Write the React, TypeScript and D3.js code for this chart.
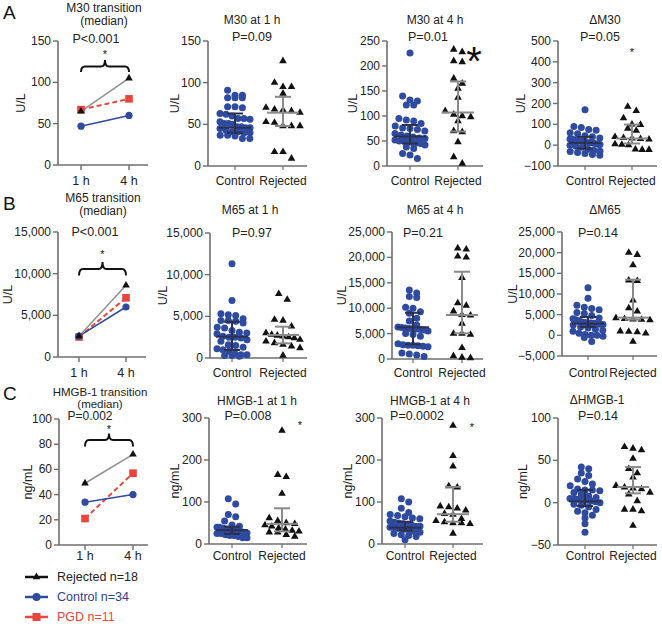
import React from 'react';
import * as d3 from 'd3';

// ---------- DATA ----------
const groups = ['Control', 'Rejected'];
const timepoints = ['1 h', '4 h'];

// transition medians [1 h, 4 h]
const m30TransRejected = [65, 105];
const m30TransControl = [47, 60];
const m30TransPGD = [67, 80];
const m65TransRejected = [2500, 8600];
const m65TransControl = [2500, 6000];
const m65TransPGD = [2400, 7100];
const hmgbTransRejected = [49, 72];
const hmgbTransControl = [34, 40];
const hmgbTransPGD = [21, 57];

// individual values
const m30At1hControl = [91, 85, 85, 82, 82, 82, 71, 71, 70, 63, 62, 57, 57, 56, 51, 51, 50, 47, 47, 46, 46, 45, 41, 41, 40, 40, 37, 37, 36, 33, 33, 60, 53, 43];
const m30At1hRejected = [126, 100, 95, 95, 87, 70, 68, 67, 66, 64, 53, 52, 48, 48, 48, 17, 17, 9];
const m30At4hControl = [226, 140, 132, 130, 122, 122, 95, 92, 90, 85, 80, 76, 75, 73, 70, 65, 62, 60, 58, 56, 55, 52, 50, 50, 48, 47, 46, 45, 42, 38, 35, 25, 22, 15];
const m30At4hRejected = [233, 228, 210, 208, 175, 165, 155, 137, 110, 103, 100, 98, 90, 70, 68, 48, 18, 5];
const dM30Control = [170, 90, 85, 75, 72, 60, 55, 45, 40, 35, 30, 28, 25, 22, 20, 18, 15, 13, 12, 10, 8, 5, 3, 0, -5, -10, -20, -25, -28, -30, -35, -40, -45, -48];
const dM30Rejected = [185, 165, 130, 100, 98, 80, 70, 40, 35, 33, 30, 28, 5, 3, 0, -20, -22, -22];
const m65At1hControl = [11300, 6900, 5300, 5200, 5100, 4700, 4500, 4500, 4400, 4200, 3700, 3600, 3300, 3100, 3000, 2900, 2600, 2500, 2500, 2400, 2200, 2000, 1600, 1500, 1300, 1100, 1000, 800, 500, 400, 400, 300, 300, 200];
const m65At1hRejected = [7700, 7000, 4600, 4500, 3800, 3000, 2800, 2700, 2600, 2500, 2400, 2200, 2000, 1800, 1600, 1400, 1200, 300];
const m65At4hControl = [13600, 13000, 12300, 12100, 10200, 10000, 9300, 9000, 8000, 7500, 6700, 6300, 6200, 6100, 6000, 6000, 5900, 5800, 5700, 5500, 5000, 4800, 4500, 3000, 2800, 2700, 2700, 2600, 2500, 2400, 1200, 1000, 800, 500];
const m65At4hRejected = [21800, 21600, 20200, 20000, 16000, 11000, 10500, 9400, 8700, 8600, 7000, 5000, 5000, 4800, 2200, 600, 300, 200];
const dM65Control = [11500, 9000, 7300, 6800, 6500, 6200, 5500, 5300, 4800, 4200, 4000, 3800, 3500, 3200, 3100, 3000, 3000, 2900, 2800, 2700, 2600, 2500, 2000, 1800, 1500, 1200, 1000, 500, 200, 0, 0, -200, -500, -1500];
const dM65Rejected = [20000, 19500, 17000, 13300, 13200, 8500, 6600, 5800, 4200, 4000, 3900, 3800, 3700, 1000, 900, 800, 500, -1500];
const hmgbAt1hControl = [108, 95, 70, 65, 55, 45, 42, 40, 40, 38, 38, 37, 36, 35, 35, 34, 33, 32, 32, 30, 30, 30, 28, 28, 27, 26, 25, 25, 22, 20, 20, 18, 15, 15];
const hmgbAt1hRejected = [270, 165, 160, 120, 62, 55, 50, 48, 45, 42, 38, 35, 32, 30, 28, 28, 22, 18];
const hmgbAt4hControl = [108, 100, 85, 75, 70, 68, 65, 62, 60, 55, 52, 50, 48, 45, 45, 42, 42, 40, 40, 40, 38, 38, 36, 35, 35, 32, 30, 30, 28, 25, 22, 20, 18, 10];
const hmgbAt4hRejected = [282, 210, 185, 138, 135, 90, 88, 85, 80, 72, 70, 60, 55, 52, 50, 50, 48, 25];
const dHmgbControl = [42, 40, 35, 32, 28, 25, 22, 20, 16, 15, 15, 14, 12, 10, 8, 6, 5, 5, 4, 3, 3, 2, 1, 0, -2, -3, -5, -8, -10, -12, -15, -18, -25, -35];
const dHmgbRejected = [66, 64, 62, 52, 40, 35, 30, 20, 18, 17, 16, 12, 10, 2, -8, -8, -10, -27];

// summary [Q1, median, Q3]
const m30At1hControlStats = [40, 46, 63];
const m30At1hRejectedStats = [48, 64, 83];
const m30At4hControlStats = [45, 59, 82];
const m30At4hRejectedStats = [69, 107, 169];
const dM30ControlStats = [-16, 11, 40];
const dM30RejectedStats = [8, 32, 99];
const m65At1hControlStats = [960, 2560, 4360];
const m65At1hRejectedStats = [1760, 2760, 3760];
const m65At4hControlStats = [2890, 6240, 9100];
const m65At4hRejectedStats = [5060, 8660, 17180];
const dM65ControlStats = [2010, 2830, 4430];
const dM65RejectedStats = [3800, 4280, 13470];
const hmgbAt1hControlStats = [24, 33, 41];
const hmgbAt1hRejectedStats = [30, 48, 85];
const hmgbAt4hControlStats = [32, 39, 53];
const hmgbAt4hRejectedStats = [53, 71, 136];
const dHmgbControlStats = [-4, 1.5, 15];
const dHmgbRejectedStats = [11, 18.5, 42];

const legendLabels = ['Rejected n=18', 'Control n=34', 'PGD n=11'];

// ---------- STYLE ----------
const FONT = 'Liberation Sans, Arial, Helvetica, sans-serif';
const AXIS = '#6e6e6e';
const BLUE = '#2f4b9f';
const RED = '#e8453c';
const TXT = '#222';

type TransCfg = {
  letter: string; letterY: number; title: string; titleY: number; titleX: number; medianY: number; hFont: number;
  p: string; pX: number; pY: number; unit: string; unitX: number;
  rej: number[]; ctl: number[]; pgd: number[]; domain: [number, number]; ticks: number[];
  x0: number; xEnd: number; xs: [number, number]; yR: [number, number]; catY: number;
  br: { top: number; end: number; peak: number; star: number };
};

const transPanels: TransCfg[] = [
  { letter: 'A', letterY: 12, title: 'M30 transition', titleX: 104, titleY: 8, medianY: 21, hFont: 12, p: 'P<0.001', pX: 96, pY: 39, unit: 'U/L', unitX: 21,
    rej: m30TransRejected, ctl: m30TransControl, pgd: m30TransPGD, domain: [0, 150], ticks: [0, 50, 100, 150],
    x0: 58, xEnd: 148, xs: [81, 129], yR: [165, 41], catY: 181, br: { top: 66.5, end: 72, peak: 60, star: 52 } },
  { letter: 'B', letterY: 203, title: 'M65 transition', titleX: 103, titleY: 198, medianY: 211, hFont: 12, p: 'P<0.001', pX: 95, pY: 232, unit: 'U/L', unitX: 8,
    rej: m65TransRejected, ctl: m65TransControl, pgd: m65TransPGD, domain: [0, 15000], ticks: [0, 5000, 10000, 15000],
    x0: 58, xEnd: 146, xs: [79, 126], yR: [357, 232], catY: 373, br: { top: 269, end: 275.5, peak: 262, star: 252 } },
  { letter: 'C', letterY: 393, title: 'HMGB-1 transition', titleX: 100, titleY: 391.5, medianY: 403.5, hFont: 11.5, p: 'P=0.002', pX: 90, pY: 416, unit: 'ng/mL', unitX: 28,
    rej: hmgbTransRejected, ctl: hmgbTransControl, pgd: hmgbTransPGD, domain: [0, 100], ticks: [0, 20, 40, 60, 80, 100],
    x0: 59, xEnd: 148, xs: [85, 133], yR: [545, 419], catY: 556, br: { top: 440, end: 446.5, peak: 433.5, star: 427 } },
];

type ScatCfg = {
  title: string; titleX: number; titleY: number; p: string; pX: number; pY: number; unit: string; unitX: number;
  ctl: number[]; rej: number[]; ctlStats: number[]; rejStats: number[]; domain: [number, number]; ticks: number[];
  x0: number; xEnd: number; cx: [number, number]; yR: [number, number]; catY: number;
  star?: { x: number; y: number; size: number };
};

const scatPanels: ScatCfg[] = [
  { title: 'M30 at 1 h', titleX: 252, titleY: 20, p: 'P=0.09', pX: 252, pY: 37, unit: 'U/L', unitX: 175,
    ctl: m30At1hControl, rej: m30At1hRejected, ctlStats: m30At1hControlStats, rejStats: m30At1hRejectedStats,
    domain: [0, 150], ticks: [0, 50, 100, 150], x0: 208, xEnd: 307, cx: [235, 283], yR: [166, 41], catY: 181 },
  { title: 'M30 at 4 h', titleX: 435, titleY: 20, p: 'P=0.01', pX: 428, pY: 37, unit: 'U/L', unitX: 353,
    ctl: m30At4hControl, rej: m30At4hRejected, ctlStats: m30At4hControlStats, rejStats: m30At4hRejectedStats,
    domain: [0, 250], ticks: [0, 50, 100, 150, 200, 250], x0: 387, xEnd: 483, cx: [410, 458], yR: [166, 41], catY: 181,
    star: { x: 474, y: 53, size: 40 } },
  { title: '\u0394M30', titleX: 605, titleY: 20, p: 'P=0.05', pX: 600, pY: 37, unit: 'U/L', unitX: 521,
    ctl: dM30Control, rej: dM30Rejected, ctlStats: dM30ControlStats, rejStats: dM30RejectedStats,
    domain: [-100, 500], ticks: [-100, 0, 100, 200, 300, 400, 500], x0: 558, xEnd: 657, cx: [585, 632], yR: [166, 41], catY: 181,
    star: { x: 632, y: 50, size: 11 } },
  { title: 'M65 at 1 h', titleX: 250, titleY: 210, p: 'P=0.97', pX: 252, pY: 233, unit: 'U/L', unitX: 163,
    ctl: m65At1hControl, rej: m65At1hRejected, ctlStats: m65At1hControlStats, rejStats: m65At1hRejectedStats,
    domain: [0, 15000], ticks: [0, 5000, 10000, 15000], x0: 210, xEnd: 307, cx: [232, 283], yR: [358, 233], catY: 373 },
  { title: 'M65 at 4 h', titleX: 435, titleY: 210, p: 'P=0.21', pX: 423, pY: 233, unit: 'U/L', unitX: 342,
    ctl: m65At4hControl, rej: m65At4hRejected, ctlStats: m65At4hControlStats, rejStats: m65At4hRejectedStats,
    domain: [0, 25000], ticks: [0, 5000, 10000, 15000, 20000, 25000], x0: 392, xEnd: 483, cx: [413, 462], yR: [359, 232], catY: 373 },
  { title: '\u0394M65', titleX: 605, titleY: 210, p: 'P=0.14', pX: 598, pY: 233, unit: 'U/L', unitX: 513,
    ctl: dM65Control, rej: dM65Rejected, ctlStats: dM65ControlStats, rejStats: dM65RejectedStats,
    domain: [-5000, 25000], ticks: [-5000, 0, 5000, 10000, 15000, 20000, 25000], x0: 562, xEnd: 657, cx: [588, 633], yR: [356, 232], catY: 373 },
  { title: 'HMGB-1 at 1 h', titleX: 257, titleY: 401, p: 'P=0.008', pX: 248, pY: 416, unit: 'ng/mL', unitX: 175,
    ctl: hmgbAt1hControl, rej: hmgbAt1hRejected, ctlStats: hmgbAt1hControlStats, rejStats: hmgbAt1hRejectedStats,
    domain: [0, 300], ticks: [0, 100, 200, 300], x0: 209, xEnd: 307, cx: [232, 282], yR: [544, 418], catY: 556,
    star: { x: 300, y: 423, size: 11 } },
  { title: 'HMGB-1 at 4 h', titleX: 430, titleY: 401, p: 'P=0.0002', pX: 417, pY: 416, unit: 'ng/mL', unitX: 348,
    ctl: hmgbAt4hControl, rej: hmgbAt4hRejected, ctlStats: hmgbAt4hControlStats, rejStats: hmgbAt4hRejectedStats,
    domain: [0, 300], ticks: [0, 100, 200, 300], x0: 382, xEnd: 483, cx: [405, 453], yR: [544, 418], catY: 556,
    star: { x: 472, y: 425, size: 11 } },
  { title: '\u0394HMGB-1', titleX: 597, titleY: 400, p: 'P=0.14', pX: 598, pY: 416, unit: 'ng/mL', unitX: 523,
    ctl: dHmgbControl, rej: dHmgbRejected, ctlStats: dHmgbControlStats, rejStats: dHmgbRejectedStats,
    domain: [-50, 100], ticks: [-50, 0, 50, 100], x0: 558, xEnd: 657, cx: [585, 633], yR: [545, 418], catY: 556 },
];

const fmt = d3.format(',');
const triPath = d3.symbol(d3.symbolTriangle, 25)() as string;

// row-based scatter layout (points with similar y share a row, centred, width-limited)
function rowLayout(vals: number[], y: (v: number) => number, d: number, maxW: number) {
  const pts = vals.map((v) => ({ v, y: y(v), x: 0 })).sort((a, b) => a.y - b.y);
  const rows: typeof pts[] = [];
  for (const p of pts) {
    const cur = rows[rows.length - 1];
    if (cur && p.y - cur[0].y < d * 0.8) cur.push(p);
    else rows.push([p]);
  }
  rows.forEach((row) => {
    const n = row.length;
    if (n === 1) { row[0].x = 0; return; }
    const sp = Math.min(d, (2 * maxW) / (n - 1));
    row.forEach((p, i) => { p.x = (i - (n - 1) / 2) * sp; });
  });
  return pts;
}

function YAxis({ x0, y, ticks }: { x0: number; y: d3.ScaleLinear<number, number>; ticks: number[] }) {
  const [d0, d1] = y.domain();
  return (
    <g>
      <line x1={x0} x2={x0} y1={y(d0)} y2={y(d1)} stroke={AXIS} strokeWidth={1.6} />
      {ticks.map((t) => (
        <g key={t}>
          <line x1={x0 - 5} x2={x0} y1={y(t)} y2={y(t)} stroke={AXIS} strokeWidth={1.4} />
          <text x={x0 - 7} y={y(t)} textAnchor="end" dominantBaseline="central" fontSize={12} fill={TXT}>{fmt(t)}</text>
        </g>
      ))}
    </g>
  );
}

function Star({ x, y, size }: { x: number; y: number; size: number }) {
  return <text x={x} y={y + size * 0.55} textAnchor="middle" fontSize={size} fill="#111">*</text>;
}

function TransPanel({ c }: { c: TransCfg }) {
  const y = d3.scaleLinear().domain(c.domain).range(c.yR);
  const x = d3.scalePoint<string>().domain(timepoints).range(c.xs);
  const line = d3.line<number>().x((_, i) => x(timepoints[i]) as number).y((v) => y(v));
  const base = y(c.domain[0]);
  const [x1, x2] = c.xs;
  const xm = (x1 + x2) / 2;
  const b = c.br;
  const brace = `M${x1},${b.end} Q${x1},${b.top} ${x1 + 4},${b.top} L${xm - 4},${b.top} Q${xm},${b.top} ${xm},${b.peak} Q${xm},${b.top} ${xm + 4},${b.top} L${x2 - 4},${b.top} Q${x2},${b.top} ${x2},${b.end}`;
  const midY = (c.yR[0] + c.yR[1]) / 2;
  return (
    <g>
      <text x={3} y={c.letterY} dominantBaseline="central" fontSize={19} fill="#111">{c.letter}</text>
      <text x={c.titleX} y={c.titleY} textAnchor="middle" dominantBaseline="central" fontSize={c.hFont} fill={TXT}>{c.title}</text>
      <text x={c.titleX} y={c.medianY} textAnchor="middle" dominantBaseline="central" fontSize={c.hFont} fill={TXT}>(median)</text>
      <text x={c.pX} y={c.pY} textAnchor="middle" dominantBaseline="central" fontSize={c.hFont + 0.5} fill={TXT}>{c.p}</text>
      <text transform={`translate(${c.unitX},${midY}) rotate(-90)`} textAnchor="middle" dominantBaseline="central" fontSize={12.5} fill={TXT}>{c.unit}</text>
      <YAxis x0={c.x0} y={y} ticks={c.ticks} />
      <line x1={c.x0} x2={c.xEnd} y1={base} y2={base} stroke={AXIS} strokeWidth={1.6} />
      {timepoints.map((t) => (
        <g key={t}>
          <line x1={x(t)} x2={x(t)} y1={base} y2={base + 5} stroke={AXIS} strokeWidth={1.4} />
          <text x={x(t)} y={c.catY} textAnchor="middle" dominantBaseline="central" fontSize={12.5} fill={TXT}>{t}</text>
        </g>
      ))}
      <path d={brace} fill="none" stroke="#111" strokeWidth={2} />
      <Star x={xm} y={c.br.star} size={11} />
      <path d={line(c.pgd) as string} fill="none" stroke={RED} strokeWidth={2} strokeDasharray="5,3" />
      <path d={line(c.ctl) as string} fill="none" stroke={BLUE} strokeWidth={1.5} />
      <path d={line(c.rej) as string} fill="none" stroke="#8f8f8f" strokeWidth={1.5} />
      {c.pgd.map((v, i) => (
        <rect key={'p' + i} x={(x(timepoints[i]) as number) - 3.8} y={y(v) - 3.8} width={7.6} height={7.6} fill={RED} />
      ))}
      {c.ctl.map((v, i) => (
        <circle key={'c' + i} cx={x(timepoints[i])} cy={y(v)} r={3.6} fill={BLUE} />
      ))}
      {c.rej.map((v, i) => (
        <path key={'r' + i} d={triPath} transform={`translate(${x(timepoints[i])},${y(v)})`} fill="#111" />
      ))}
    </g>
  );
}

function ErrBar({ cx, y, stats, color }: { cx: number; y: d3.ScaleLinear<number, number>; stats: number[]; color: string }) {
  const [q1, med, q3] = stats;
  return (
    <g stroke={color} strokeWidth={2} fill="none">
      <line x1={cx} x2={cx} y1={y(q1)} y2={y(q3)} />
      <line x1={cx - 16} x2={cx + 16} y1={y(med)} y2={y(med)} />
      <line x1={cx - 8} x2={cx + 8} y1={y(q1)} y2={y(q1)} />
      <line x1={cx - 8} x2={cx + 8} y1={y(q3)} y2={y(q3)} />
    </g>
  );
}

function ScatPanel({ c }: { c: ScatCfg }) {
  const y = d3.scaleLinear().domain(c.domain).range(c.yR);
  const x = d3.scaleOrdinal<string, number>().domain(groups).range(c.cx);
  const base = y(c.domain[0]);
  const midY = (c.yR[0] + c.yR[1]) / 2;
  const ctlPts = rowLayout(c.ctl, y, 7.4, 15);
  const rejPts = rowLayout(c.rej, y, 8.5, 17);
  const xc = x('Control');
  const xr = x('Rejected');
  return (
    <g>
      <text x={c.titleX} y={c.titleY} textAnchor="middle" dominantBaseline="central" fontSize={12} fill={TXT}>{c.title}</text>
      <text x={c.pX} y={c.pY} textAnchor="middle" dominantBaseline="central" fontSize={12.5} fill={TXT}>{c.p}</text>
      <text transform={`translate(${c.unitX},${midY}) rotate(-90)`} textAnchor="middle" dominantBaseline="central" fontSize={12.5} fill={TXT}>{c.unit}</text>
      <YAxis x0={c.x0} y={y} ticks={c.ticks} />
      <line x1={c.x0} x2={c.xEnd} y1={base} y2={base} stroke={AXIS} strokeWidth={1.6} />
      {groups.map((g) => (
        <g key={g}>
          <line x1={x(g)} x2={x(g)} y1={base} y2={base + 4} stroke={AXIS} strokeWidth={1.2} />
          <text x={x(g)} y={c.catY} textAnchor="middle" dominantBaseline="central" fontSize={12} fill={TXT}>{g}</text>
        </g>
      ))}
      {ctlPts.map((p, i) => <circle key={'c' + i} cx={xc + p.x} cy={p.y} r={3.5} fill={BLUE} />)}
      {rejPts.map((p, i) => <path key={'r' + i} d={triPath} transform={`translate(${xr + p.x},${p.y})`} fill="#111" />)}
      <ErrBar cx={xc} y={y} stats={c.ctlStats} color="#2b3050" />
      <ErrBar cx={xr} y={y} stats={c.rejStats} color="#8a8a8a" />
      {c.star && <Star x={c.star.x} y={c.star.y} size={c.star.size} />}
    </g>
  );
}

function Legend() {
  const ys = [577, 597, 617];
  const cols = ['#111', BLUE, RED];
  const tcols = ['#222', '#2e3f8f', RED];
  return (
    <g>
      {legendLabels.map((l, i) => (
        <g key={l}>
          <line x1={25} x2={48} y1={ys[i]} y2={ys[i]} stroke={cols[i]} strokeWidth={2.5} />
          {i === 0 && <path d={triPath} transform={`translate(36.5,${ys[i]})`} fill="#111" />}
          {i === 1 && <circle cx={36.5} cy={ys[i]} r={4} fill={BLUE} />}
          {i === 2 && <rect x={32.5} y={ys[i] - 4} width={8} height={8} fill={RED} />}
          <text x={57} y={ys[i]} dominantBaseline="central" fontSize={12.5} fill={tcols[i]}>{l}</text>
        </g>
      ))}
    </g>
  );
}

export default function App() {
  return (
    <svg width={662} height={624} viewBox="0 0 662 624" style={{ position: 'absolute', left: 0, top: 0, background: '#fff' }} fontFamily={FONT}>
      <rect width={662} height={624} fill="#fff" />
      {transPanels.map((c) => <TransPanel key={c.letter} c={c} />)}
      {scatPanels.map((c) => <ScatPanel key={c.title} c={c} />)}
      <Legend />
    </svg>
  );
}
